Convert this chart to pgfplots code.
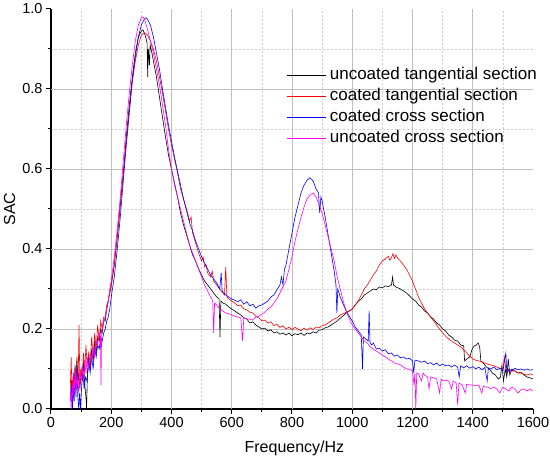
\documentclass[border=0pt]{standalone}
\usepackage{fontspec}
\setmainfont{Liberation Sans}
\usepackage{pgfplots}
\pgfplotsset{compat=1.18}
\definecolor{mag}{RGB}{255,0,255}
\definecolor{blu}{RGB}{0,0,255}
\definecolor{majg}{RGB}{190,190,190}
\definecolor{ming}{RGB}{205,205,205}
\begin{document}
\begin{tikzpicture}
\begin{axis}[
 at={(0,0)}, anchor=south west,
 scale only axis, width=482pt, height=400pt,
 xmin=0, xmax=1600, ymin=0, ymax=1,
 axis x line*=bottom, axis y line*=left,
 axis line style={-, line width=1.5pt, black},
 xtick={0,200,...,1600}, ytick={0,0.2,...,1.0},
 minor x tick num=1, minor y tick num=1,
 tick align=outside, major tick length=5pt, minor tick length=3pt,
 every tick/.style={black, line width=1pt},
 xminorgrids=true, yminorgrids=true,
 minor grid style={ming, line width=0.7pt, dash pattern=on 2pt off 2pt},
 major grid style={majg, line width=0.9pt},
 extra x ticks={200,400,...,1400}, extra y ticks={0.2,0.4,0.6,0.8},
 extra x tick labels={}, extra y tick labels={},
 extra tick style={grid=major},
 /pgf/number format/assume math mode=true,
 tick label style={font=\fontsize{14.5}{16}\selectfont},
 yticklabel style={/pgf/number format/.cd, fixed, fixed zerofill, precision=1},
 xticklabel style={/pgf/number format/1000 sep={}},
 xlabel={Frequency/Hz}, ylabel={SAC},
 label style={font=\fontsize{16}{18}\selectfont},
 xlabel style={at={(axis description cs:0.505,-0.07)}, anchor=north},
 ylabel style={at={(axis description cs:-0.086,0.5)}, anchor=center},
 legend cell align=left,
 legend style={at={(0.4876,0.86)}, anchor=north west, draw=none, fill=none,
   inner sep=0pt, row sep=0pt, font=\fontsize{17}{17}\selectfont,
   nodes={inner sep=2pt, text height=12.5pt, text depth=4.5pt}},
 legend image code/.code={\draw[#1, line width=0.7pt] (0pt,0pt) -- (39pt,0pt); \path (41pt,0pt);},
 clip=true,
]
\addplot[black, line width=0.6pt] coordinates {
(65,0.03)(68,0.07)(71,0.02)(74,0.09)(77,0.04)(80,0.11)(83,0.05)(86,0.13)(89,0.06)(92,0.09)(96,0.05)(100,0.10)(104,0.07)(108,0.12)(112,0.06)(116,0.03)(118,0.0)(121,0.09)(125,0.13)(130,0.10)(135,0.15)(140,0.12)(145,0.17)(150,0.14)(155,0.18)(160,0.17)(165,0.20)(170,0.19)(175,0.22)(180,0.22)(185,0.25)(190,0.27)(195,0.29)(200,0.31)(210,0.36)(220,0.43)(230,0.51)(240,0.59)(250,0.68)(260,0.76)(270,0.83)(280,0.89)(290,0.93)(300,0.945)(305,0.948)(310,0.94)(316,0.925)(319,0.915)(321,0.83)(323,0.90)(327,0.86)(329,0.91)(335,0.89)(340,0.87)(350,0.83)(360,0.78)(370,0.73)(380,0.68)(390,0.635)(400,0.60)(410,0.565)(420,0.53)(430,0.49)(440,0.46)(450,0.435)(460,0.41)(470,0.385)(480,0.37)(490,0.35)(500,0.335)(510,0.32)(520,0.31)(530,0.30)(540,0.29)(550,0.28)(558,0.275)(561,0.18)(564,0.27)(570,0.265)(580,0.262)(590,0.255)(600,0.25)(610,0.245)(620,0.24)(630,0.235)(640,0.228)(650,0.225)(660,0.215)(670,0.218)(680,0.21)(690,0.205)(700,0.20)(710,0.202)(720,0.195)(730,0.198)(740,0.19)(750,0.193)(760,0.187)(770,0.19)(780,0.185)(790,0.19)(800,0.183)(810,0.188)(820,0.186)(830,0.19)(840,0.184)(850,0.19)(860,0.188)(870,0.193)(880,0.19)(890,0.197)(900,0.198)(910,0.203)(920,0.205)(930,0.21)(940,0.215)(950,0.22)(960,0.227)(970,0.233)(980,0.24)(990,0.245)(1000,0.25)(1010,0.26)(1020,0.27)(1030,0.275)(1040,0.285)(1050,0.29)(1060,0.295)(1070,0.3)(1080,0.298)(1090,0.305)(1100,0.303)(1110,0.308)(1120,0.306)(1130,0.31)(1134,0.33)(1137,0.31)(1145,0.305)(1160,0.30)(1170,0.295)(1180,0.29)(1190,0.283)(1200,0.275)(1210,0.27)(1220,0.26)(1230,0.255)(1240,0.245)(1250,0.24)(1260,0.23)(1270,0.225)(1280,0.215)(1290,0.21)(1300,0.20)(1310,0.195)(1320,0.185)(1330,0.18)(1340,0.172)(1350,0.17)(1360,0.16)(1370,0.158)(1373,0.12)(1380,0.125)(1390,0.13)(1398,0.15)(1405,0.158)(1412,0.16)(1418,0.165)(1423,0.155)(1427,0.12)(1435,0.115)(1445,0.105)(1455,0.10)(1465,0.09)(1475,0.085)(1485,0.075)(1492,0.08)(1497,0.11)(1502,0.07)(1508,0.1)(1513,0.08)(1518,0.125)(1523,0.085)(1530,0.1)(1540,0.095)(1550,0.09)(1560,0.092)(1570,0.085)(1580,0.08)(1590,0.078)(1600,0.075)
};
\addlegendentry{uncoated tangential section}
\addplot[red, line width=0.6pt] coordinates {
(64,0.05)(67,0.13)(70,0.03)(73,0.08)(76,0.04)(79,0.10)(82,0.06)(86,0.12)(90,0.06)(93,0.21)(96,0.06)(100,0.10)(104,0.08)(108,0.14)(112,0.09)(116,0.16)(120,0.11)(125,0.14)(130,0.11)(135,0.18)(140,0.13)(145,0.19)(150,0.15)(155,0.21)(160,0.17)(165,0.22)(170,0.20)(175,0.23)(180,0.23)(185,0.26)(190,0.27)(195,0.29)(200,0.31)(210,0.36)(220,0.43)(230,0.51)(240,0.59)(250,0.67)(260,0.75)(270,0.82)(280,0.87)(290,0.91)(300,0.935)(310,0.94)(320,0.935)(330,0.92)(340,0.90)(350,0.87)(360,0.83)(370,0.79)(380,0.745)(390,0.70)(400,0.66)(410,0.625)(420,0.59)(430,0.55)(440,0.525)(450,0.50)(460,0.47)(465,0.48)(470,0.44)(480,0.415)(490,0.39)(500,0.37)(505,0.38)(510,0.355)(515,0.36)(520,0.34)(530,0.33)(535,0.345)(540,0.32)(550,0.31)(560,0.30)(570,0.29)(576,0.285)(580,0.355)(584,0.28)(590,0.275)(600,0.27)(610,0.265)(620,0.258)(630,0.26)(640,0.25)(650,0.248)(660,0.242)(670,0.24)(680,0.232)(690,0.228)(700,0.22)(710,0.222)(720,0.215)(730,0.218)(740,0.208)(750,0.212)(760,0.204)(770,0.208)(780,0.2)(790,0.205)(800,0.198)(810,0.204)(820,0.2)(830,0.196)(840,0.202)(850,0.197)(860,0.203)(870,0.199)(880,0.205)(890,0.203)(900,0.208)(910,0.21)(920,0.215)(930,0.22)(940,0.225)(950,0.228)(960,0.235)(970,0.238)(980,0.242)(990,0.245)(1000,0.25)(1010,0.26)(1020,0.27)(1030,0.285)(1040,0.30)(1050,0.31)(1060,0.322)(1070,0.335)(1080,0.345)(1090,0.36)(1100,0.37)(1110,0.375)(1120,0.382)(1125,0.372)(1130,0.378)(1135,0.388)(1140,0.376)(1145,0.385)(1150,0.378)(1160,0.37)(1170,0.36)(1180,0.35)(1190,0.335)(1200,0.32)(1210,0.30)(1220,0.28)(1230,0.265)(1240,0.25)(1250,0.24)(1260,0.23)(1270,0.22)(1280,0.21)(1290,0.2)(1300,0.19)(1310,0.182)(1320,0.175)(1330,0.17)(1340,0.165)(1350,0.16)(1360,0.155)(1370,0.148)(1380,0.14)(1390,0.132)(1400,0.125)(1410,0.122)(1420,0.12)(1430,0.118)(1440,0.115)(1450,0.112)(1460,0.11)(1470,0.108)(1480,0.105)(1490,0.102)(1500,0.1)(1505,0.13)(1510,0.1)(1515,0.09)(1520,0.098)(1530,0.095)(1540,0.095)(1550,0.09)(1560,0.09)(1570,0.087)(1580,0.085)(1590,0.088)(1600,0.085)
};
\addlegendentry{coated tangential section}
\addplot[blu, line width=0.6pt] coordinates {
(65,0.02)(68,0.06)(71,0.0)(74,0.05)(77,0.02)(80,0.08)(83,0.03)(86,0.11)(89,0.03)(92,0.0)(95,0.04)(98,0.0)(102,0.06)(106,0.09)(110,0.05)(115,0.08)(120,0.07)(125,0.12)(130,0.09)(135,0.13)(140,0.10)(145,0.15)(150,0.13)(155,0.16)(160,0.15)(165,0.18)(170,0.17)(175,0.19)(180,0.20)(185,0.22)(190,0.23)(195,0.25)(200,0.28)(210,0.33)(220,0.40)(230,0.48)(240,0.57)(250,0.66)(260,0.74)(270,0.82)(280,0.88)(290,0.93)(300,0.96)(310,0.975)(315,0.978)(320,0.975)(330,0.96)(340,0.93)(350,0.89)(360,0.85)(370,0.80)(380,0.755)(390,0.71)(400,0.67)(410,0.63)(420,0.595)(430,0.56)(440,0.525)(450,0.495)(460,0.465)(470,0.445)(480,0.42)(490,0.40)(500,0.38)(510,0.365)(520,0.35)(530,0.335)(540,0.325)(550,0.315)(560,0.30)(565,0.34)(568,0.295)(575,0.29)(580,0.285)(590,0.28)(600,0.275)(610,0.272)(620,0.268)(630,0.273)(640,0.262)(650,0.268)(660,0.258)(670,0.262)(680,0.252)(690,0.258)(700,0.26)(710,0.265)(720,0.27)(730,0.28)(740,0.285)(750,0.298)(760,0.31)(765,0.33)(770,0.31)(775,0.35)(780,0.36)(790,0.40)(800,0.44)(810,0.48)(820,0.51)(830,0.54)(840,0.56)(850,0.572)(860,0.578)(870,0.57)(880,0.55)(888,0.54)(892,0.49)(896,0.53)(900,0.52)(910,0.48)(920,0.435)(930,0.39)(940,0.345)(946,0.31)(949,0.24)(952,0.30)(960,0.28)(970,0.262)(980,0.245)(990,0.232)(1000,0.22)(1010,0.205)(1020,0.195)(1030,0.185)(1034,0.10)(1037,0.18)(1045,0.175)(1053,0.17)(1056,0.245)(1059,0.165)(1065,0.16)(1070,0.165)(1080,0.15)(1090,0.152)(1100,0.145)(1110,0.148)(1120,0.138)(1130,0.14)(1140,0.132)(1150,0.135)(1160,0.128)(1170,0.13)(1180,0.125)(1190,0.127)(1200,0.12)(1204,0.09)(1208,0.122)(1220,0.12)(1230,0.117)(1240,0.12)(1250,0.113)(1260,0.116)(1270,0.11)(1280,0.115)(1290,0.108)(1300,0.112)(1310,0.108)(1320,0.11)(1330,0.105)(1340,0.11)(1350,0.104)(1355,0.08)(1360,0.108)(1370,0.103)(1380,0.108)(1390,0.102)(1400,0.106)(1410,0.10)(1420,0.105)(1430,0.098)(1440,0.104)(1448,0.07)(1452,0.103)(1460,0.1)(1470,0.105)(1480,0.098)(1490,0.102)(1500,0.095)(1510,0.14)(1513,0.09)(1520,0.10)(1530,0.095)(1540,0.102)(1550,0.098)(1560,0.1)(1570,0.097)(1580,0.1)(1590,0.097)(1600,0.098)
};
\addlegendentry{coated cross section}
\addplot[mag, line width=0.6pt] coordinates {
(64,0.05)(67,0.0)(70,0.06)(73,0.02)(76,0.09)(79,0.04)(82,0.10)(85,0.05)(88,0.08)(92,0.04)(96,0.09)(100,0.07)(104,0.11)(108,0.07)(112,0.12)(116,0.09)(120,0.13)(125,0.10)(130,0.14)(135,0.12)(140,0.15)(145,0.13)(150,0.17)(155,0.16)(160,0.19)(164,0.18)(166,0.06)(168,0.19)(172,0.21)(176,0.22)(180,0.23)(185,0.25)(190,0.27)(195,0.30)(200,0.32)(210,0.38)(220,0.45)(230,0.53)(240,0.62)(250,0.71)(260,0.79)(270,0.86)(280,0.92)(290,0.96)(300,0.978)(305,0.98)(310,0.975)(320,0.95)(330,0.92)(340,0.89)(350,0.85)(360,0.81)(370,0.76)(380,0.71)(390,0.65)(400,0.60)(410,0.56)(420,0.53)(430,0.50)(440,0.47)(450,0.44)(460,0.41)(470,0.39)(480,0.37)(490,0.35)(500,0.33)(510,0.31)(520,0.295)(530,0.28)(537,0.27)(540,0.19)(543,0.265)(550,0.26)(560,0.25)(570,0.245)(580,0.24)(590,0.238)(600,0.235)(610,0.232)(620,0.23)(630,0.228)(636,0.17)(640,0.228)(650,0.225)(660,0.225)(670,0.222)(680,0.23)(690,0.232)(700,0.237)(710,0.242)(720,0.25)(730,0.255)(740,0.265)(750,0.275)(760,0.29)(770,0.305)(780,0.32)(790,0.35)(800,0.38)(810,0.42)(820,0.45)(830,0.48)(840,0.505)(850,0.525)(860,0.535)(870,0.54)(880,0.53)(890,0.51)(900,0.49)(910,0.46)(920,0.43)(930,0.40)(940,0.37)(950,0.33)(960,0.30)(970,0.27)(980,0.245)(990,0.225)(1000,0.21)(1010,0.2)(1020,0.19)(1030,0.18)(1040,0.17)(1050,0.165)(1060,0.155)(1070,0.15)(1080,0.145)(1090,0.14)(1100,0.135)(1110,0.13)(1120,0.125)(1130,0.12)(1140,0.115)(1150,0.113)(1160,0.11)(1170,0.105)(1180,0.1)(1190,0.1)(1200,0.095)(1205,0.06)(1208,0.09)(1211,0.0)(1214,0.09)(1220,0.088)(1230,0.07)(1235,0.09)(1240,0.085)(1250,0.08)(1255,0.05)(1260,0.08)(1270,0.078)(1280,0.075)(1290,0.04)(1295,0.075)(1300,0.07)(1310,0.072)(1320,0.07)(1330,0.05)(1335,0.07)(1345,0.065)(1350,0.01)(1354,0.065)(1365,0.06)(1375,0.04)(1380,0.062)(1390,0.06)(1400,0.06)(1410,0.058)(1420,0.06)(1430,0.04)(1435,0.058)(1440,0.055)(1450,0.055)(1460,0.05)(1470,0.055)(1480,0.05)(1490,0.04)(1500,0.055)(1510,0.05)(1520,0.045)(1530,0.055)(1540,0.05)(1550,0.04)(1560,0.048)(1570,0.05)(1580,0.045)(1590,0.05)(1600,0.045)
};
\addlegendentry{uncoated cross section}
\end{axis}
\pgfresetboundingbox
\path (-51pt,-51pt) rectangle (499pt,409pt);
\end{tikzpicture}
\end{document}
